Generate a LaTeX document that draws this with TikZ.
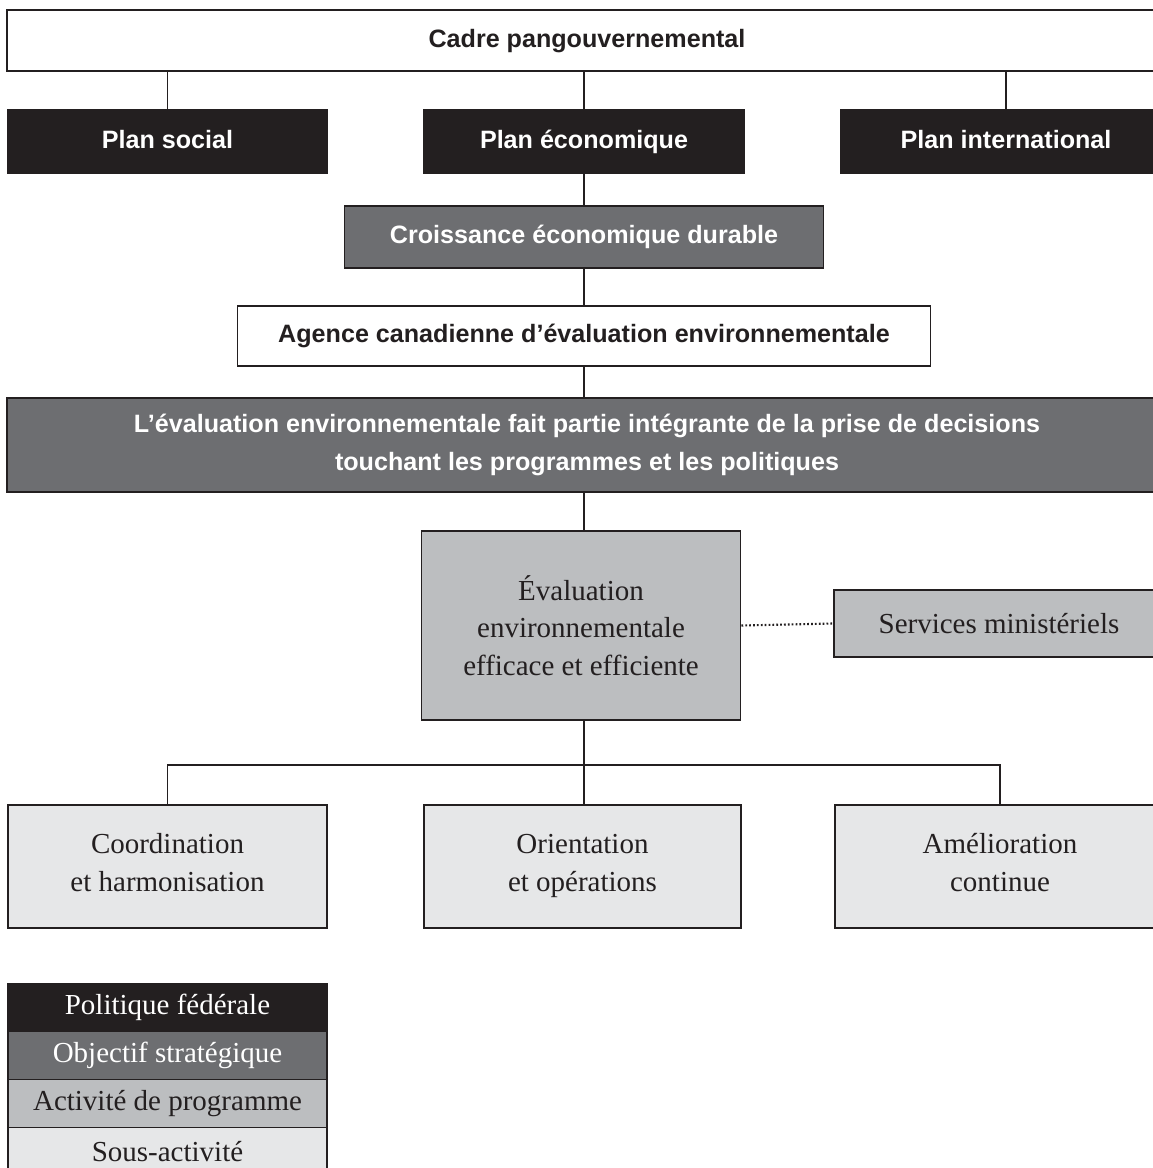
\documentclass[tikz,border=0pt]{standalone}
\usepackage{fontspec}
\setmainfont{Liberation Serif}
\newfontfamily\headfont{Liberation Sans}
\definecolor{fedblack}{HTML}{231F20}
\definecolor{goalgrey}{HTML}{6D6E71}
\definecolor{proggrey}{HTML}{BCBEC0}
\definecolor{subgrey}{HTML}{E6E7E8}
\tikzset{
  box/.style={draw=fedblack, line width=1.1pt, rectangle, inner sep=0pt,
              align=center, text=fedblack},
  headtext/.style={font=\headfont\bfseries\fontsize{14.3}{21.5}\selectfont},
  bodytext/.style={font=\fontsize{16.5}{21.5}\selectfont},
  oneline/.style={text height=10.5pt, text depth=3pt},
  frame/.style={box, headtext, fill=white},
  policy/.style={box, headtext, oneline, fill=fedblack, text=white},
  goal/.style={box, headtext, fill=goalgrey, text=white},
  program/.style={box, bodytext, fill=proggrey},
  subact/.style={box, bodytext, fill=subgrey, text depth=4.5pt},
  link/.style={draw=fedblack, line width=1.1pt},
}

\begin{document}
\begin{tikzpicture}[x=0.02cm, y=-0.02cm]
  \newcommand{\pix}{0.02cm}
  \newcommand{\spine}{584}
  \newcommand{\colw}{319}

  \useasboundingbox (0, 0) rectangle (1152, 1168);

  % Draws the framework and the three plans
  \node[frame, oneline, minimum width=1160*\pix, minimum height=61*\pix]
       (cadre) at (587, 40.5) {Cadre pangouvernemental};
  \node[policy, minimum width=\colw*\pix, minimum height=63*\pix]
       (social) at (167.5, 141.5) {Plan social};
  \node[policy, minimum width=321*\pix, minimum height=63*\pix]
       (eco) at (\spine, 141.5) {Plan économique};
  \node[policy, minimum width=330*\pix, minimum height=63*\pix]
       (inter) at (1006, 141.5) {Plan international};

  % Strategic goal, agency and outcome
  \node[goal, oneline, minimum width=479*\pix, minimum height=62*\pix]
       (croissance) at (\spine, 237) {Croissance économique durable};
  \node[frame, oneline, minimum width=693*\pix, minimum height=60*\pix]
       (agence) at (\spine, 336) {Agence canadienne d’évaluation environnementale};
  \node[goal, minimum width=1160*\pix, minimum height=94*\pix]
       (integr) at (587, 445)
       {L’évaluation environnementale fait partie intégrante de la prise de decisions\\
        touchant les programmes et les politiques};

  % Program activity and the ministerial services
  \node[program, minimum width=\colw*\pix, minimum height=189*\pix]
       (efficace) at (581, 625.5)
       {Évaluation\\environnementale\\efficace et efficiente};
  \node[program, minimum width=330*\pix, minimum height=67*\pix]
       (services) at (999, 623.5) {Services ministériels};

  % Sub-activities
  \node[subact, minimum width=\colw*\pix, minimum height=123*\pix]
       (coord) at (167.5, 866.5) {Coordination\\et harmonisation};
  \node[subact, minimum width=317*\pix, minimum height=123*\pix]
       (orient) at (582.5, 866.5) {Orientation\\et opérations};
  \node[subact, minimum width=330*\pix, minimum height=123*\pix]
       (amelio) at (1000, 866.5) {Amélioration\\continue};

  % Connectors along the spine
  \coordinate (bus) at (\spine, 765);
  \foreach \n in {social, eco, inter}
     \draw[link] (\n.north) -- (\n.north |- cadre.south);
  \draw[link] (eco) -- (croissance);
  \draw[link] (croissance) -- (agence);
  \draw[link] (agence.south) -- (agence.south |- integr.north);
  \draw[link] (bus |- integr.south) -- (bus |- efficace.north);
  \draw[link] (bus |- efficace.south) -- (bus |- orient.north);
  \draw[link] (coord.north) |- (bus) -| (amelio.north);
  \draw[fedblack, line width=1.2pt, dash pattern=on 1pt off 1.2pt]
       (efficace.east) -- (services.west);

  % Draws the legend
  \foreach \i/\fillc/\ink/\txt in {0/fedblack/white/Politique fédérale,
                                   1/goalgrey/white/Objectif stratégique,
                                   2/proggrey/fedblack/Activité de programme,
                                   3/subgrey/fedblack/Sous-activité}
     \node[box, bodytext, fill=\fillc, text=\ink, minimum width=\colw*\pix,
           minimum height=48*\pix]
          (leg\i) at (167.5, 1007.5 + 48*\i) {\txt};
\end{tikzpicture}
\end{document}
